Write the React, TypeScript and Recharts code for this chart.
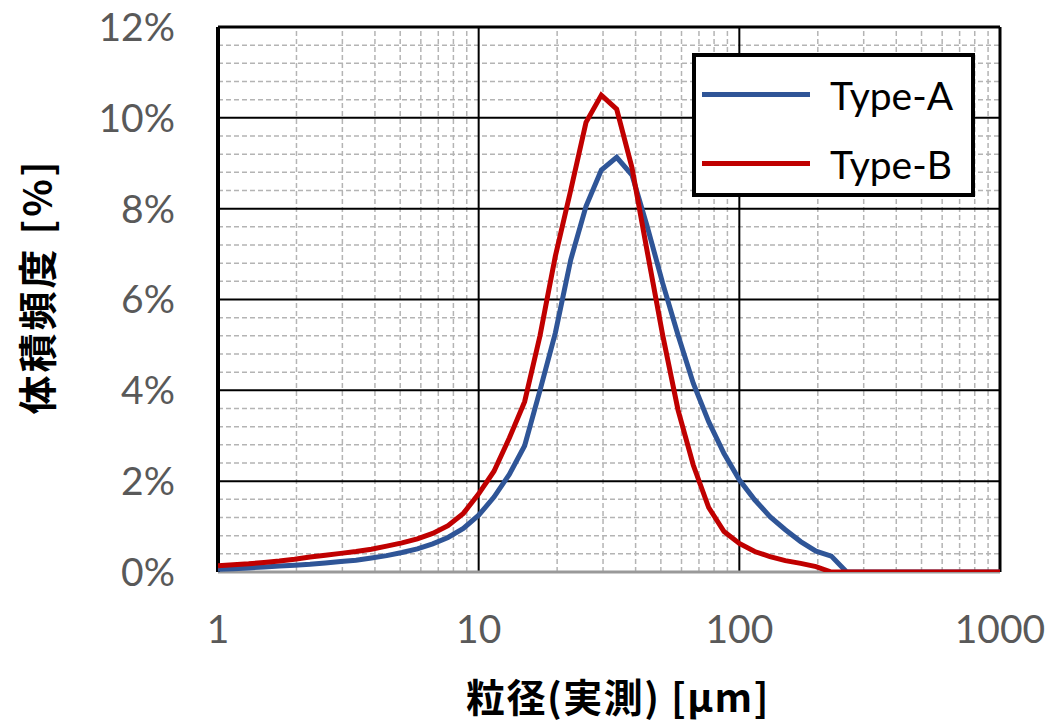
import React from 'react';
import { LineChart, Line, XAxis, YAxis, ReferenceLine, Legend, Label } from 'recharts';

// particle size bins [µm]
const sizes = [
  1.000, 1.145, 1.311, 1.501, 1.719, 1.968, 2.254, 2.581, 2.955, 3.384,
  3.875, 4.437, 5.080, 5.817, 6.661, 7.627, 8.733, 10.00, 11.45, 13.11,
  15.01, 17.19, 19.68, 22.54, 25.81, 29.55, 33.84, 38.75, 44.37, 50.80,
  58.17, 66.61, 76.27, 87.33, 100.0, 114.5, 131.1, 150.1, 171.9, 196.8,
  225.4, 258.1, 295.5, 338.4, 387.5, 443.7, 508.0, 581.7, 666.1, 762.7,
  873.3, 1000,
];

// volume frequency [%]
const typeA = [
  0.06, 0.07, 0.09, 0.11, 0.13, 0.15, 0.17, 0.20, 0.23, 0.26,
  0.31, 0.36, 0.43, 0.51, 0.62, 0.76, 0.96, 1.25, 1.65, 2.15,
  2.78, 4.00, 5.26, 6.87, 8.05, 8.85, 9.13, 8.74, 7.60, 6.36,
  5.22, 4.15, 3.31, 2.61, 2.03, 1.59, 1.22, 0.93, 0.67, 0.46,
  0.35, 0, 0, 0, 0, 0, 0, 0, 0, 0,
  0, 0,
];

const typeB = [
  0.14, 0.16, 0.18, 0.21, 0.24, 0.28, 0.33, 0.37, 0.41, 0.45,
  0.50, 0.57, 0.64, 0.73, 0.85, 1.02, 1.29, 1.72, 2.22, 2.95,
  3.75, 5.20, 6.95, 8.40, 9.90, 10.50, 10.19, 8.90, 7.04, 5.22,
  3.57, 2.35, 1.42, 0.89, 0.63, 0.45, 0.34, 0.25, 0.19, 0.12,
  0, 0, 0, 0, 0, 0, 0, 0, 0, 0,
  0, 0,
];

const seriesNames = ['Type-A', 'Type-B'];
const seriesColors = ['#2F5597', '#C00000'];

const xTicks = [1, 10, 100, 1000];
const xMajorGrid = [10, 100];
const xMinorGrid = [2, 3, 4, 5, 6, 7, 8, 9, 20, 30, 40, 50, 60, 70, 80, 90, 200, 300, 400, 500, 600, 700, 800, 900];
const yTicks = [0, 2, 4, 6, 8, 10, 12];
const yMajorGrid = [2, 4, 6, 8, 10];
const yMinorGrid = [
  0.4, 0.8, 1.2, 1.6, 2.4, 2.8, 3.2, 3.6, 4.4, 4.8, 5.2, 5.6,
  6.4, 6.8, 7.2, 7.6, 8.4, 8.8, 9.2, 9.6, 10.4, 10.8, 11.2, 11.6,
];

const xTitle = '粒径(実測) [μm]';
const yTitle = '体積頻度 [%]';

const data = sizes.map((s, i) => ({ size: s, a: typeA[i], b: typeB[i] }));

const tickFont = { fill: '#595959', fontSize: 39, fontFamily: 'Lato, "Open Sans", sans-serif' };
const cjkFont = '"Noto Sans CJK JP", "Noto Sans", sans-serif';

const LegendBox = (props: any) => {
  const payload = props.payload || [];
  return (
    <div
      style={{
        width: 283,
        height: 144,
        boxSizing: 'border-box',
        border: '4px solid #000',
        background: '#fff',
        position: 'relative',
      }}
    >
      {payload.map((p: any, i: number) => (
        <div key={i} style={{ position: 'absolute', left: 0, top: i * 69, height: 80, width: 275 }}>
          <div
            style={{
              position: 'absolute',
              left: 6,
              top: 35,
              width: 108,
              height: 5,
              background: p.color,
            }}
          />
          <div
            style={{
              position: 'absolute',
              left: 134,
              top: 10,
              fontSize: 39,
              lineHeight: '56px',
              fontFamily: 'Lato, "Open Sans", sans-serif',
              color: '#000',
              whiteSpace: 'nowrap',
            }}
          >
            {p.value}
          </div>
        </div>
      ))}
    </div>
  );
};

export default function App() {
  return (
    <div style={{ position: 'absolute', left: 0, top: 0, width: 1050, height: 724, background: '#fff' }}>
      <LineChart width={1050} height={724} data={data} margin={{ top: 27, right: 50, bottom: 12, left: 0 }}>
        <XAxis
          dataKey="size"
          type="number"
          scale="log"
          domain={[1, 1000]}
          ticks={xTicks}
          interval={0}
          allowDataOverflow
          axisLine={false}
          tickLine={false}
          tickSize={0}
          tickMargin={43}
          tick={tickFont}
          tickFormatter={(v: number) => String(v)}
          height={140}
        >
          <Label
            content={(p: any) => {
              const vb = p.viewBox || { x: 218, y: 572, width: 782, height: 140 };
              return (
                <text
                  x={vb.x + vb.width / 2 + 9}
                  y={vb.y + 140}
                  textAnchor="middle"
                  fontFamily={cjkFont}
                  fontWeight={700}
                  fontSize={39}
                  letterSpacing={1.5}
                  fill="#000"
                >
                  {xTitle}
                </text>
              );
            }}
          />
        </XAxis>
        <YAxis
          type="number"
          domain={[0, 12]}
          ticks={yTicks}
          interval={0}
          allowDataOverflow
          axisLine={false}
          tickLine={false}
          tickSize={0}
          tickMargin={43}
          tick={tickFont}
          tickFormatter={(v: number) => `${v}%`}
          width={218}
        >
          <Label
            content={(p: any) => {
              const vb = p.viewBox || { x: 0, y: 27, width: 218, height: 545 };
              const cx = 35;
              const cy = vb.y + vb.height / 2 - 13;
              return (
                <text
                  x={cx}
                  y={cy}
                  transform={`rotate(-90, ${cx}, ${cy})`}
                  textAnchor="middle"
                  dominantBaseline="central"
                  fontFamily={cjkFont}
                  fontWeight={700}
                  fontSize={39}
                  letterSpacing={3}
                  fill="#000"
                >
                  {yTitle}
                </text>
              );
            }}
          />
        </YAxis>

        {xMinorGrid.map((v) => (
          <ReferenceLine key={'xm' + v} x={v} stroke="#b4b4b4" strokeWidth={1.5} strokeDasharray="5 3" />
        ))}
        {yMinorGrid.map((v) => (
          <ReferenceLine key={'ym' + v} y={v} stroke="#b4b4b4" strokeWidth={1.5} strokeDasharray="5 3" />
        ))}
        {xMajorGrid.map((v) => (
          <ReferenceLine key={'xM' + v} x={v} stroke="#000" strokeWidth={2} />
        ))}
        {yMajorGrid.map((v) => (
          <ReferenceLine key={'yM' + v} y={v} stroke="#000" strokeWidth={2} />
        ))}
        <ReferenceLine y={12} stroke="#000" strokeWidth={3} />
        <ReferenceLine x={1000} stroke="#000" strokeWidth={3} />
        <ReferenceLine y={0} stroke="#999" strokeWidth={3} />
        <ReferenceLine x={1} stroke="#000" strokeWidth={4} />

        <Line
          dataKey="a"
          name={seriesNames[0]}
          stroke={seriesColors[0]}
          strokeWidth={5}
          type="linear"
          dot={false}
          activeDot={false}
          isAnimationActive={false}
        />
        <Line
          dataKey="b"
          name={seriesNames[1]}
          stroke={seriesColors[1]}
          strokeWidth={5}
          type="linear"
          dot={false}
          activeDot={false}
          isAnimationActive={false}
        />
        <Legend
          layout="vertical"
          align="center"
          verticalAlign="middle"
          content={LegendBox}
          wrapperStyle={{ position: 'absolute', left: 692, top: 53, width: 283, height: 144, margin: 0, padding: 0 }}
        />
      </LineChart>
    </div>
  );
}
